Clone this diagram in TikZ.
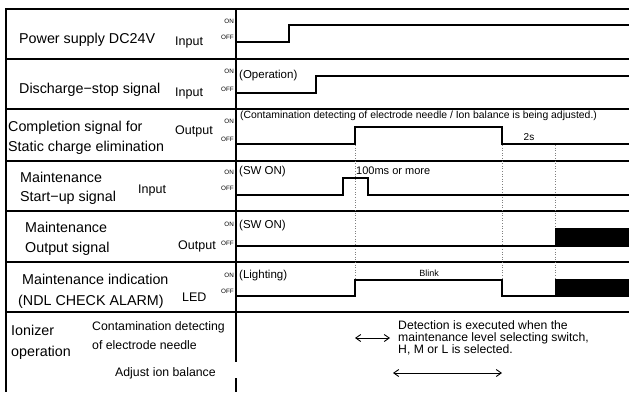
\documentclass[tikz,border=0pt]{standalone}
\usepackage{fontspec}
\setmainfont{Liberation Sans}
\usetikzlibrary{arrows.meta}
\begin{document}
\begin{tikzpicture}[x=1pt,y=-1pt,
 frame/.style={line width=1.8pt},
 sig/.style={line width=2.6pt, line join=miter},
 guide/.style={gray, dotted, line width=0.6pt},
 onoff/.style={font=\fontsize{6.3}{7}\selectfont, anchor=east, inner sep=0pt},
 lab/.style={font=\fontsize{14.3}{16}\selectfont, anchor=west, inner sep=0pt},
 io/.style={font=\fontsize{12.5}{14}\selectfont, anchor=west, inner sep=0pt},
 note/.style={font=\fontsize{11.5}{13}\selectfont, anchor=west, inner sep=0pt},
 sub/.style={font=\fontsize{12.3}{14}\selectfont, anchor=west, inner sep=0pt},
 small/.style={font=\fontsize{10}{11}\selectfont, inner sep=0pt},
 dbl/.style={{Straight Barb[length=5pt,width=7pt]}-{Straight Barb[length=5pt,width=7pt]}, line width=0.9pt}
]
\useasboundingbox (0,0) rectangle (629,392);
% frame
\draw[frame] (629,9) -- (6,9) -- (6,392);
\foreach \yy in {59,109,161,211,262,312}{\draw[frame] (6,\yy) -- (629,\yy);}
\draw[frame] (236,9) -- (236,362);
\draw[frame] (236,378) -- (236,392);
% guides
\foreach \xx in {355,502,555}{\draw[guide] (\xx,145) -- (\xx,280);}
% signals
\draw[sig] (236,42) -- (289,42) -- (289,25) -- (629,25);
\draw[sig] (236,93) -- (316,93) -- (316,76) -- (629,76);
\draw[sig] (236,144) -- (355,144) -- (355,127) -- (502,127) -- (502,144) -- (629,144);
\draw[sig] (236,195) -- (343,195) -- (343,178) -- (368,178) -- (368,195) -- (629,195);
\draw[sig] (236,246) -- (629,246);
\fill (555,228) rectangle (629,247.3);
\draw[sig] (236,296) -- (355,296) -- (355,280) -- (502,280) -- (502,296) -- (555,296);
\fill (555,278.7) rectangle (629,297.3);
% ON/OFF
\node[onoff] (on1) at (234,21) {ON};  \node[onoff] (off1) at (234,37) {OFF};
\node[onoff] (on2) at (234,71) {ON};  \node[onoff] (off2) at (234,89) {OFF};
\node[onoff] (on3) at (234,121) {ON}; \node[onoff] (off3) at (234,139) {OFF};
\node[onoff] (on4) at (234,172) {ON}; \node[onoff] (off4) at (234,188) {OFF};
\node[onoff] (on5) at (234,224) {ON}; \node[onoff] (off5) at (234,243) {OFF};
\node[onoff] (on6) at (234,275) {ON}; \node[onoff] (off6) at (234,291) {OFF};
% labels
\node[lab] (l1) at (19,40) {Power supply DC24V};
\node[io] (i1) at (175,42) {Input};
\node[lab] (l2) at (19,90) {Discharge−stop signal};
\node[io] (i2) at (175,93) {Input};
\node[lab] (l3a) at (8,128) {Completion signal for};
\node[lab] (l3b) at (8,148) {Static charge elimination};
\node[io] (i3) at (175,131) {Output};
\node[lab] (l4a) at (20,177) {Maintenance};
\node[lab] (l4b) at (20,198) {Start−up signal};
\node[io] (i4) at (138,190) {Input};
\node[lab] (l5a) at (25,227) {Maintenance};
\node[lab] (l5b) at (25,249) {Output signal};
\node[io] (i5) at (178,246) {Output};
\node[lab] (l6a) at (22,279) {Maintenance indication};
\node[lab] (l6b) at (18,302) {(NDL CHECK ALARM)};
\node[io] (i6) at (182,297) {LED};
\node[lab] (l7a) at (11,330) {Ionizer};
\node[lab] (l7b) at (11,353) {operation};
\node[sub] (s1) at (92,327) {Contamination detecting};
\node[sub] (s2) at (92,345) {of electrode needle};
\node[sub] (s3) at (115,373) {Adjust ion balance};
% chart notes
\node[note] (n2) at (239,76) {(Operation)};
\node[small, anchor=west, font=\fontsize{10.4}{11}\selectfont] (n3) at (240,116) {(Contamination detecting of electrode needle / Ion balance is being adjusted.)};
\node[small] (t2s) at (529,137) {2s};
\node[note] (n4) at (239,172) {(SW ON)};
\node[small, anchor=west, font=\fontsize{11}{12}\selectfont] (t100) at (356,171) {100ms or more};
\node[note] (n5) at (239,226) {(SW ON)};
\node[note] (n6) at (239,276) {(Lighting)};
\node[small, font=\fontsize{9}{10}\selectfont] (blink) at (429,273) {Blink};
\coordinate (a1l) at (355,338); \coordinate (a1r) at (390,338);
\coordinate (a2l) at (393,373); \coordinate (a2r) at (502,373);
\draw[dbl] (a1l) -- (a1r);
\draw[dbl] (a2l) -- (a2r);
\node[sub, align=left, font=\fontsize{12.2}{11.7}\selectfont] (det) at (398,338) {Detection is executed when the\\maintenance level selecting switch,\\H, M or L is selected.};
\end{tikzpicture}
\end{document}
